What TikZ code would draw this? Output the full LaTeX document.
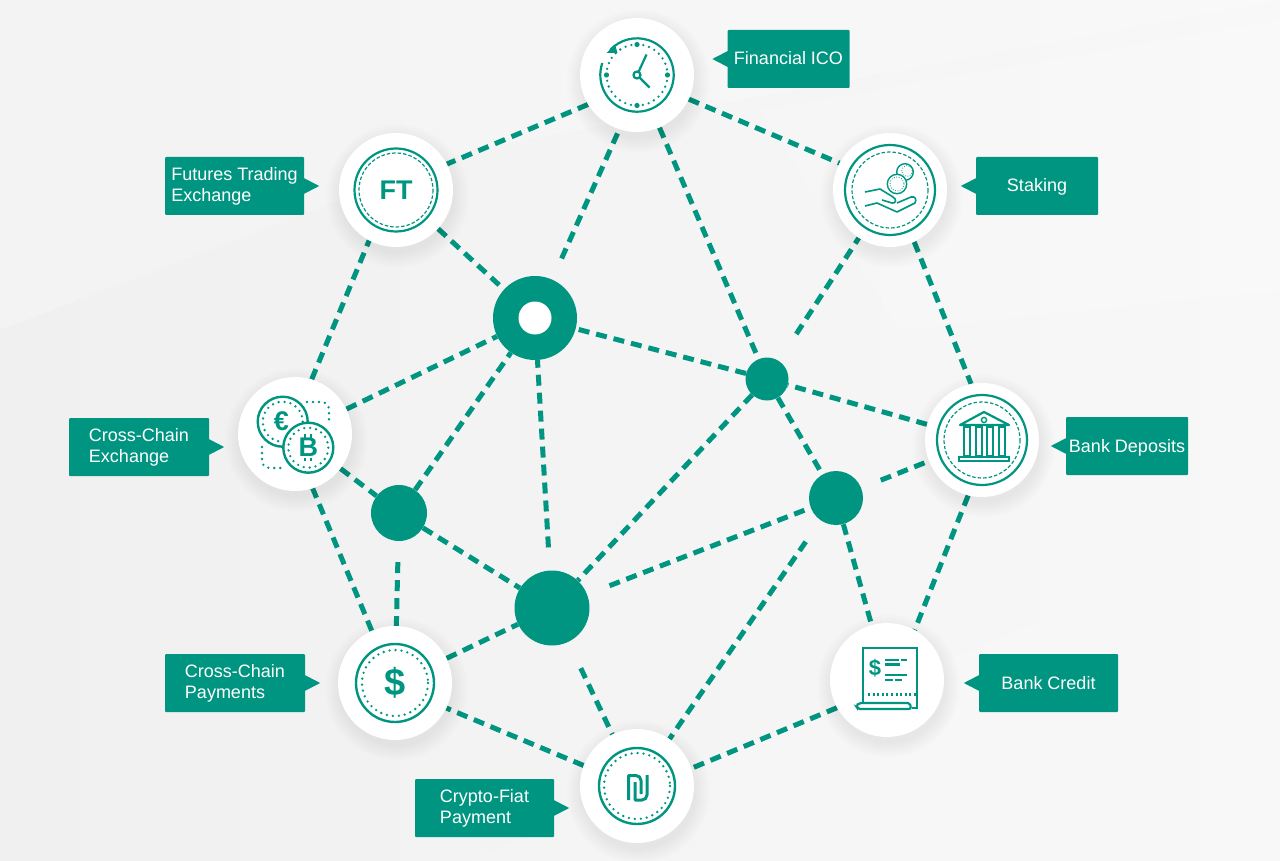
\documentclass[tikz,border=0pt]{standalone}
\usepackage{fontspec}
\setmainfont{Liberation Sans}
\usepackage{xcolor}
\usetikzlibrary{arrows.meta,backgrounds}
\definecolor{TealColor}{RGB}{0,149,129}
\definecolor{PaperColor}{RGB}{248,248,248}
\definecolor{EdgeColor}{RGB}{240,240,240}

\begin{document}
\begin{tikzpicture}[x=1pt, y=-1pt, >=Latex,
    station/.style={circle, fill=white, minimum size=114pt, inner sep=0pt, text=TealColor},
    hub/.style={circle, fill=TealColor, inner sep=0pt},
    tag/.style={fill=TealColor, text=white, rounded corners=1pt, align=left, minimum height=58pt, inner sep=0pt, font=\fontsize{18}{21}\selectfont, execute at begin node={\rule[-4pt]{0pt}{20pt}}},
    link/.style={draw=TealColor, line width=5pt, dash pattern=on 11pt off 7pt},
    ringline/.style={draw=TealColor, line width=2.2pt},
    fineline/.style={draw=TealColor, line width=1.2pt, dash pattern=on 3.5pt off 2pt},
    dotline/.style={draw=TealColor, line width=2.6pt, line cap=round, dash pattern=on 0pt off 6pt},
    markup/.style={text=TealColor, inner sep=0pt, font=\bfseries\fontsize{27}{27}\selectfont}]
  \useasboundingbox (0,0) rectangle (1280,861);

  % stations
  \node[station, font=\bfseries\fontsize{27}{27}\selectfont] (ft) at (396,190) {FT};
  \node[station] (clock) at (637,75) {};
  \node[station] (staking) at (890,190) {};
  \node[station] (bank) at (982,440) {};
  \node[station] (credit) at (887,680) {};
  \node[station] (shekel) at (637,786) {};
  \node[station, font=\bfseries\fontsize{38}{38}\selectfont] (dollar) at (395,683) {\$};
  \node[station] (cross) at (295,434) {};

  % hubs
  \node[hub, minimum size=84pt] (hubA) at (535,318) {};
  \node[circle, fill=white, minimum size=33pt, inner sep=0pt] (hubAhole) at (hubA) {};
  \node[hub, minimum size=43pt] (hubB) at (767,379) {};
  \node[hub, minimum size=54pt] (hubC) at (836,498) {};
  \node[hub, minimum size=56pt] (hubD) at (399,513) {};
  \node[hub, minimum size=75pt] (hubE) at (552,608) {};

  % tags
  \node[tag, minimum width=122pt] (tagico) at (788.5,59) {Financial ICO};
  \node[tag, minimum width=122pt] (tagstaking) at (1037,186) {Staking};
  \node[tag, minimum width=122pt] (tagbank) at (1127,446) {Bank Deposits};
  \node[tag, minimum width=139pt] (tagcredit) at (1048.5,683) {Bank Credit};
  \node[tag, minimum width=139pt] (tagft) at (234.5,186) {Futures Trading\\Exchange};
  \node[tag, minimum width=140pt] (tagcross) at (139,447) {Cross-Chain\\Exchange};
  \node[tag, minimum width=140pt] (tagpay) at (235,683) {Cross-Chain\\Payments};
  \node[tag, minimum width=139pt] (tagfiat) at (484.5,808) {Crypto-Fiat\\Payment};
  \foreach \t in {tagico,tagstaking,tagbank,tagcredit}
    \fill[TealColor] (\t.west) ++(0.5,-8) -- ++(-15.5,8) -- ++(15.5,8) -- cycle;
  \foreach \t in {tagft,tagcross,tagpay,tagfiat}
    \fill[TealColor] (\t.east) ++(-0.5,-8) -- ++(15.5,8) -- ++(-15.5,8) -- cycle;

  \begin{scope}[on background layer]
    \fill[left color=EdgeColor, right color=PaperColor] (0,0) rectangle (1280,861);
    \fill[white, opacity=.2] (0,0) -- (1280,0) -- (470,150) -- (0,330) -- cycle;
    \fill[white, opacity=.12] (470,861) -- (1280,520) -- (1280,861) -- cycle;
    \fill[white, opacity=.15] (760,110) -- (1280,20) -- (1280,290) -- (900,330) -- cycle;
    % links
    \draw[link] (clock.211) -- (ft.27);
    \draw[link] (clock.-25) -- (staking.152);
    \draw[link, shorten <=23pt] (hubA) -- (clock.252);
    \draw[link] (clock) -- (hubB);
    \draw[link, shorten <=32pt] (hubB) -- (staking);
    \draw[link] (staking.-65) -- (bank.101);
    \draw[link] (bank.-104) -- (credit.61);
    \draw[link] (bank) -- (hubB);
    \draw[link, shorten <=21pt] (hubC) -- (bank);
    \draw[link] (hubB) -- (hubA);
    \draw[link] (hubB) -- (hubC);
    \draw[link] (hubB) -- (hubE);
    \draw[link] (hubC) -- (credit);
    \draw[link, shorten <=24pt] (hubE) -- (hubC);
    \draw[link, shorten <=26pt] (hubC) -- (shekel);
    \draw[link] (credit.209) -- (shekel.18);
    \draw[link] (shekel.159) -- (dollar.-26);
    \draw[link, shorten <=29pt] (hubE) -- (shekel);
    \draw[link] (dollar) -- (hubE);
    \draw[link, shorten <=21pt] (hubD) -- (dollar);
    \draw[link] (dollar.114) -- (cross.-72);
    \draw[link] (cross.73) -- (ft.242);
    \draw[link] (cross) -- (hubA);
    \draw[link] (cross) -- (hubD);
    \draw[link] (hubD) -- (hubA);
    \draw[link] (hubD) -- (hubE);
    \draw[link, shorten <=23pt] (hubE) -- (hubA);
    \draw[link] (ft) -- (hubA);
    % soft shadows
    \foreach \s in {ft,clock,staking,bank,credit,shekel,dollar,cross}
      \foreach \r in {57,58,...,72}
        \fill[black, opacity=.005] ([shift={(1.5,6)}]\s.center) circle[radius=\r];
  \end{scope}

  % ft
  \draw[ringline] (ft) circle[radius=41.5];
  \draw[fineline] (ft) circle[radius=37];

  % clock
  \begin{scope}[shift={(clock)}]
    \draw[ringline] (199:36.7) arc[start angle=199, end angle=-137, radius=36.7];
    \fill[TealColor] (-30.5,-22) -- (-22,-30.5) -- (-19.5,-22) -- cycle;
    \draw[dotline] (0,0) circle[radius=30.5];
    \foreach \a in {0,90,180,270}
      \fill[TealColor] (\a:30.5) circle[radius=2.6];
    \draw[ringline] (1.5,-3) -- (9.5,-20.5);
    \draw[ringline] (2.5,2.5) -- (12.5,12.5);
    \draw[ringline, fill=white] (0,0) circle[radius=3.5];
  \end{scope}

  % staking
  \draw[ringline] (staking) circle[radius=45];
  \draw[fineline] (staking) circle[radius=38];
  \draw[ringline, line width=1.4pt] (905,172) circle[radius=8.3];
  \draw[ringline, line width=1.4pt, fill=white] (897,184) circle[radius=9.7];
  \draw[dotline, line width=1.1pt, dash pattern=on 0pt off 2.5pt] (897,184) circle[radius=7];
  \draw[dotline, line width=1.1pt, dash pattern=on 0pt off 2.5pt] (907,171) circle[radius=5.5];
  \draw[ringline, line width=1.6pt, line join=round] (865,192) -- (880,189) -- (893,197) .. controls (897,199) and (896,204) .. (892,203) -- (882,200);
  \draw[ringline, line width=1.6pt, line join=round] (865,206) -- (877,203) -- (897,212) -- (915,203) .. controls (917,199) and (915,196) .. (911,197) -- (897,203);

  % bank
  \draw[ringline] (bank) circle[radius=45];
  \draw[fineline] (bank) circle[radius=38];
  \draw[ringline, line join=round] (960,425) -- (984,412) -- (1009,425) -- cycle;
  \draw[ringline, line width=1.4pt] (984,420) circle[radius=2.6];
  \foreach \c in {967,979,990,1002}
    \draw[ringline, line width=1.4pt] (\c-3,427) rectangle (\c+3,456);
  \draw[ringline] (959,457) rectangle (1009,461);

  % credit
  \draw[ringline] (863,703) -- (863,648) -- (917,648) -- (917,708) -- (912,708);
  \draw[ringline, rounded corners=2pt] (910,703) -- (859,703) -- (856,706) -- (858,709) -- (911,709) -- cycle;
  \node[markup, font=\bfseries\fontsize{22}{22}\selectfont] (creditmark) at (875,668) {\$};
  \draw[ringline] (885,660) -- (899,660) (901,660) -- (907,660);
  \draw[ringline] (885,664.5) -- (900,664.5);
  \draw[ringline] (885,675) -- (907,675);
  \draw[ringline] (885,680) -- (893,680) (895,680) -- (902,680);
  \draw[dotline, line cap=butt, dash pattern=on 2pt off 2.6pt, line width=3pt] (868,694) -- (916,694);

  % shekel
  \draw[ringline, line width=2.4pt] (shekel) circle[radius=38];
  \draw[dotline] (shekel) circle[radius=33];
  \draw[ringline, line width=3pt, line join=round] (628.5,800) -- (628.5,775.5) -- (636,775.5) arc[start angle=-90, end angle=0, radius=5] -- (641,794);
  \draw[ringline, line width=3pt, line join=round] (647,775) -- (647,795) arc[start angle=0, end angle=90, radius=5] -- (635,800) -- (635,782);

  % dollar
  \draw[ringline, line width=2.4pt] (dollar) circle[radius=39];
  \draw[dotline] (dollar) circle[radius=33];

  % cross
  \draw[ringline, line width=2.4pt] (282.7,421.7) circle[radius=25];
  \draw[dotline] (282.7,421.7) circle[radius=20];
  \node[markup] (euro) at (281.5,421.7) {€};
  \draw[ringline, line width=2.4pt, fill=white] (308.3,447.7) circle[radius=25];
  \draw[dotline] (308.3,447.7) circle[radius=20];
  \node[markup] (bitcoin) at (308.3,447.7) {B};
  \draw[ringline] (305,434) -- (305,437.5) (311,434) -- (311,437.5) (305,458) -- (305,461) (311,458) -- (311,461);
  \draw[dotline] (307,402) -- (321,402) .. controls (326,402) and (329,405) .. (329,410) -- (329,423);
  \draw[dotline] (262,447) -- (262,460) .. controls (262,465) and (265,468) .. (270,468) -- (283,468);
\end{tikzpicture}
\end{document}
